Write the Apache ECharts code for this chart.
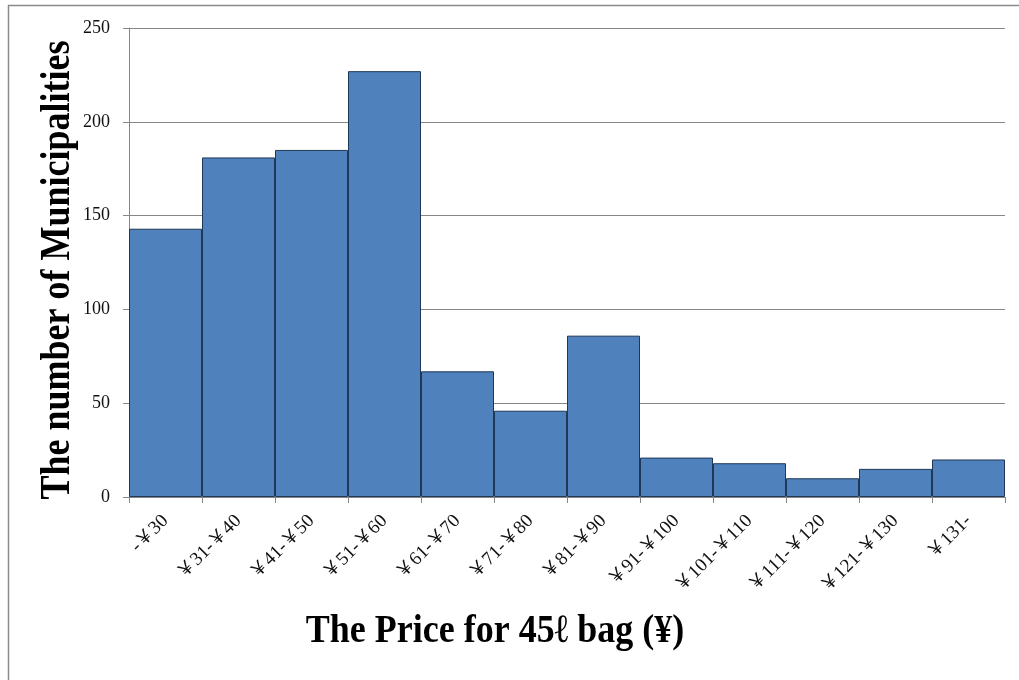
<!DOCTYPE html>
<html>
<head>
<meta charset="utf-8">
<script src="https://cdn.jsdelivr.net/npm/echarts@6/dist/echarts.min.js"></script>
<style>
html,body{margin:0;padding:0;background:#fff;}
#c{width:1019px;height:680px;}
</style>
</head>
<body>
<div id="c"></div>
<script>
const categories = ['-￥30','￥31-￥40','￥41-￥50','￥51-￥60','￥61-￥70','￥71-￥80','￥81-￥90','￥91-￥100','￥101-￥110','￥111-￥120','￥121-￥130','￥131-'];
const counts = [143, 181, 185, 227, 67, 46, 86, 21, 18, 10, 15, 20];
const yTicks = [0, 50, 100, 150, 200, 250];
const xTitle = 'The Price for 45ℓ bag (¥)';
const yTitle = 'The number of Municipalities';

const chart = echarts.init(document.getElementById('c'), null, {renderer:'canvas'});
const serif = '"Liberation Serif", "Times New Roman", "Noto Sans CJK JP", serif';
chart.setOption({
  animation: false,
  backgroundColor: '#fff',
  graphic: [{
    type: 'rect', shape: {x: 8.5, y: 5.5, width: 1100, height: 700},
    style: {fill: 'none', stroke: '#8a8a8a', lineWidth: 1.5}, silent: true, z: -1
  }, {
    type: 'text', x: 495, y: 632, scaleY: 1.12,
    style: {text: xTitle, fontFamily: serif, fontWeight: 'bold', fontSize: 36, fill: '#000', textAlign: 'center', textVerticalAlign: 'middle'}
  }, {
    type: 'text', x: 58, y: 270, rotation: Math.PI / 2, scaleY: 1.15,
    style: {text: yTitle, fontFamily: serif, fontWeight: 'bold', fontSize: 36, fill: '#000', textAlign: 'center', textVerticalAlign: 'middle'}
  }],
  grid: {left: 129, right: 14, top: 28, bottom: 183, containLabel: false},
  xAxis: {
    type: 'category', data: categories,
    axisLine: {lineStyle: {color: '#868686', width: 1}},
    axisTick: {show: true, length: 6, lineStyle: {color: '#868686'}},
    axisLabel: {rotate: 45, fontFamily: serif, fontSize: 19, color: '#111', margin: 21, interval: 0}
  },
  yAxis: {
    type: 'value', min: yTicks[0], max: yTicks[yTicks.length-1], interval: 50,
    axisLine: {show: true, lineStyle: {color: '#868686', width: 1}},
    axisTick: {show: true, length: 6, lineStyle: {color: '#868686'}},
    axisLabel: {fontFamily: serif, fontSize: 18, color: '#111', margin: 19},
    splitLine: {lineStyle: {color: '#868686', width: 1}}
  },
  series: [{
    type: 'bar', data: counts, barCategoryGap: '0%',
    itemStyle: {color: '#4F81BD', borderColor: '#1F3857', borderWidth: 1}
  }]
});
</script>
</body>
</html>
